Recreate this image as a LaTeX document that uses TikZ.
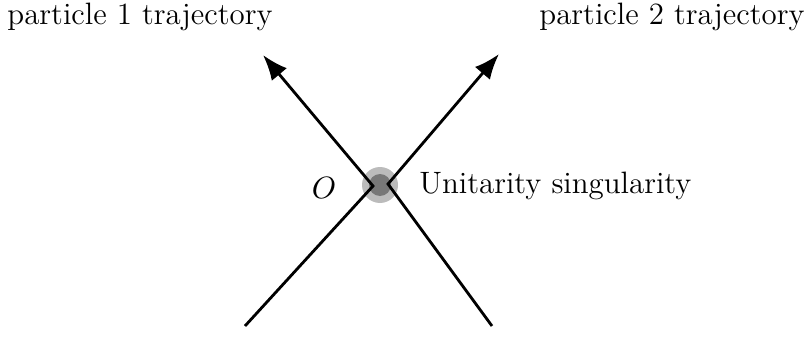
\documentclass[tikz,border=0pt]{standalone}
\usepackage{amsmath,amssymb}
\usepackage{xcolor}
\usepackage{tikz}
\usetikzlibrary{calc,arrows.meta}
\definecolor{blobout}{HTML}{BBBBBB}
\definecolor{blobin}{HTML}{777777}
\tikzset{traj/.style={line width=1pt,black,-{Latex[length=9pt,width=7pt]}},
  lbl/.style={inner sep=1pt,font=\fontsize{11pt}{13pt}\selectfont}}
\begin{document}
\begin{tikzpicture}[x=0.0125cm,y=-0.0125cm]
\useasboundingbox (0,0) rectangle (810,338);
\node[circle,fill=blobout,minimum size=36*0.0125cm,inner sep=0pt] (S) at (380,185) {};
\node[circle,fill=blobin,minimum size=22*0.0125cm,inner sep=0pt] (Si) at (380,185) {};
\coordinate (A0) at (245,326); \coordinate (K1) at (373,186); \coordinate (A1) at (263,55);
\coordinate (B0) at (492,326); \coordinate (K2) at (388,184); \coordinate (B1) at (499,54);
\draw[traj] (A0)--(K1)--(A1);
\draw[traj] (B0)--(K2)--(B1);
\node[lbl] (t1) at (140,17) {particle 1 trajectory};
\node[lbl] (t2) at (672,17) {particle 2 trajectory};
\node[lbl] (O) at (324,188) {$O$};
\node[lbl,right] (U) at (416,186) {Unitarity singularity};
\end{tikzpicture}
\end{document}
